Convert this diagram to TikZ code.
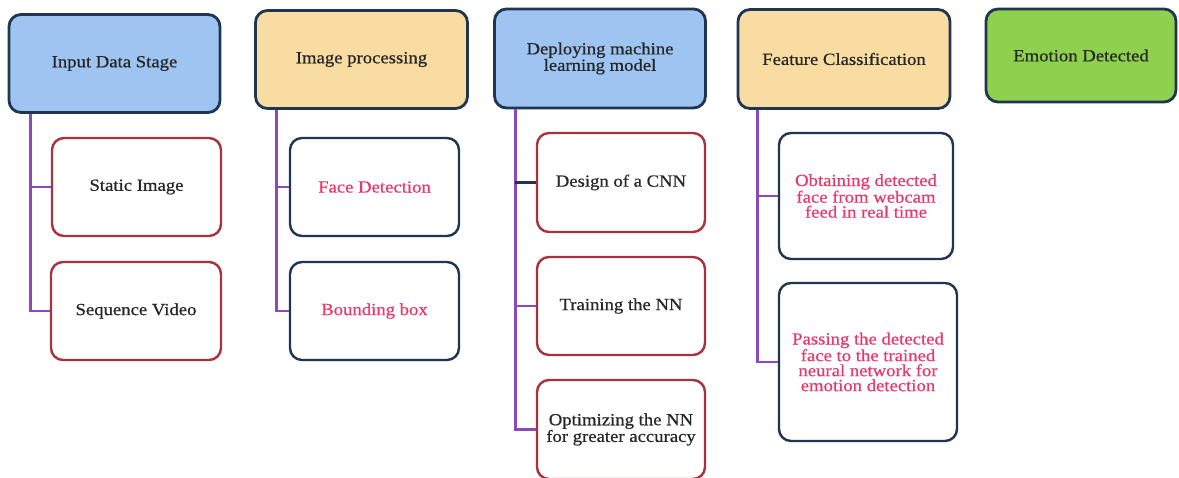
\documentclass[tikz,border=0pt]{standalone}
\usepackage{fontspec}
\setmainfont{Liberation Serif}[FakeStretch=1.1,FakeBold=0.6]
\definecolor{hblue}{HTML}{9EC4F2}
\definecolor{htan}{HTML}{F8DCA2}
\definecolor{hgreen}{HTML}{8ED14F}
\definecolor{navy}{HTML}{1F3552}
\definecolor{crim}{HTML}{A8323E}
\definecolor{purp}{HTML}{8A4BB8}
\definecolor{pinktxt}{HTML}{E83A6A}
\definecolor{dtxt}{HTML}{262626}
\tikzset{
  base/.style={rectangle, rounded corners=12pt, align=center, inner sep=2pt,
    font=\fontsize{17}{15}\selectfont},
  head/.style={base, draw=navy, line width=2.8pt, text=dtxt},
  kidred/.style={base, draw=crim, line width=2.4pt, fill=white, text=dtxt},
  kidnavy/.style={base, draw=navy, line width=2.4pt, fill=white, text=pinktxt},
  conn/.style={draw=purp, line width=2.8pt},
  connnavy/.style={draw=navy, line width=2.4pt}
}
\begin{document}
\begin{tikzpicture}[x=1pt,y=-1pt]
\useasboundingbox (0,0) rectangle (1179,477);
% headers
\node[head, fill=hblue, minimum width=211pt, minimum height=98pt] (h1) at (114.5,63.5) {Input Data Stage};
\node[head, fill=htan, minimum width=212pt, minimum height=98pt] (h2) at (361.5,59.5) {Image processing};
\node[head, fill=hblue, minimum width=211pt, minimum height=99pt] (h3) at (600,58.5) {Deploying machine\\learning model};
\node[head, fill=htan, minimum width=212pt, minimum height=99pt] (h4) at (844,59) {Feature Classification};
\node[head, fill=hgreen, minimum width=190pt, minimum height=93pt] (h5) at (1081,55.5) {Emotion Detected};
% children
\node[kidred, minimum width=169pt, minimum height=98pt] (c11) at (136.5,187) {Static Image};
\node[kidred, minimum width=170pt, minimum height=98pt] (c12) at (136,311) {Sequence Video};
\node[kidnavy, minimum width=169pt, minimum height=98pt] (c21) at (374.5,187) {Face Detection};
\node[kidnavy, minimum width=169pt, minimum height=98pt] (c22) at (374.5,311) {Bounding box};
\node[kidred, minimum width=168pt, minimum height=99pt] (c31) at (621,182.5) {Design of a CNN};
\node[kidred, minimum width=168pt, minimum height=98pt] (c32) at (621,306) {Training the NN};
\node[kidred, minimum width=168pt, minimum height=99pt] (c33) at (621,429.5) {Optimizing the NN\\for greater accuracy};
\node[kidnavy, minimum width=174pt, minimum height=126pt] (c41) at (866,196) {Obtaining detected\\face from webcam\\feed in real time};
\node[kidnavy, minimum width=178pt, minimum height=158pt] (c42) at (868,362) {Passing the detected\\face to the trained\\neural network for\\emotion detection};
% trunk start points
\coordinate (t1) at ([xshift=23pt]h1.south west);
\coordinate (t2) at ([xshift=22pt]h2.south west);
\coordinate (t3) at ([xshift=22pt]h3.south west);
\coordinate (t4) at ([xshift=21pt]h4.south west);
% connectors
\draw[conn] (t1) |- (c11.west);
\draw[conn] (t1) |- (c12.west);
\draw[conn] (t2) |- (c21.west);
\draw[conn] (t2) |- (c22.west);
\draw[conn] (t3) |- (c33.west);
\draw[conn] (t3) |- (c32.west);
\draw[connnavy] (c31.west) -- (c31.west -| t3);
\draw[conn] (t4) |- (c41.west);
\draw[conn] (t4) |- (c42.west);
\end{tikzpicture}
\end{document}
